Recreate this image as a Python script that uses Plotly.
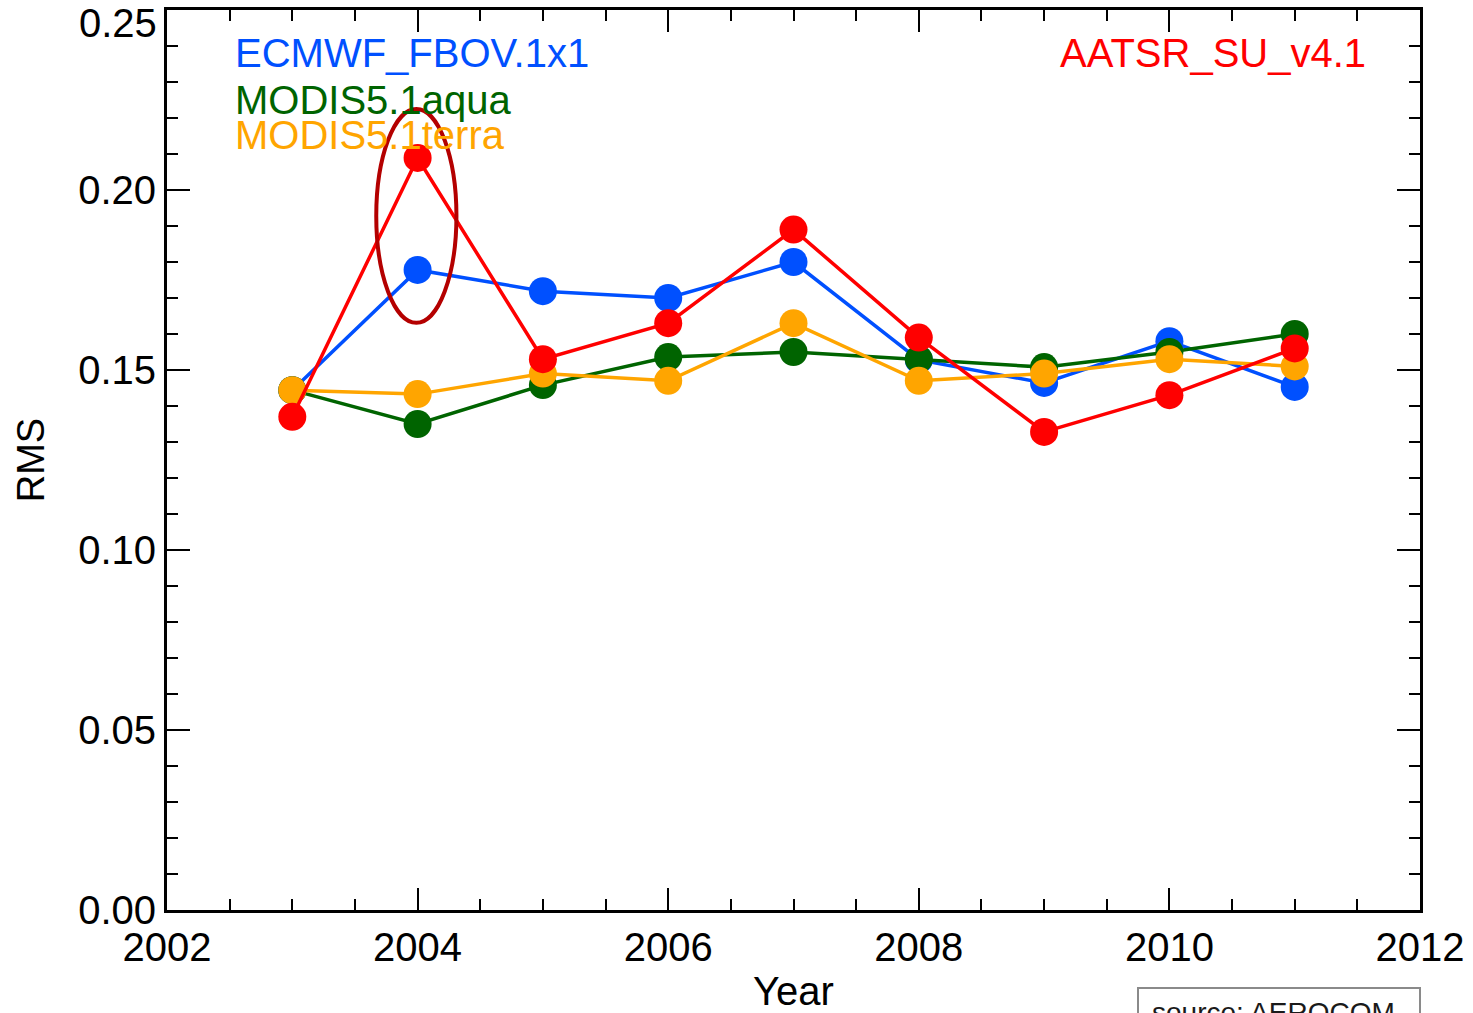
import plotly.graph_objects as go

# Annual RMS of AOD retrievals / model vs. reference
years = [2003, 2004, 2005, 2006, 2007, 2008, 2009, 2010, 2011]

ecmwf_fbov = [0.1444, 0.1778, 0.1719, 0.1700, 0.1800, 0.1528, 0.1464, 0.1580, 0.1453]
modis_aqua = [0.1444, 0.1350, 0.1458, 0.1536, 0.1550, 0.1530, 0.1508, 0.1550, 0.1600]
modis_terra = [0.1444, 0.1433, 0.1490, 0.1470, 0.1630, 0.1470, 0.1490, 0.1530, 0.1510]
aatsr_su = [0.1370, 0.2089, 0.1530, 0.1630, 0.1890, 0.1590, 0.1328, 0.1430, 0.1560]

series_names = ["ECMWF_FBOV.1x1", "MODIS5.1aqua", "MODIS5.1terra", "AATSR_SU_v4.1"]
series_values = [ecmwf_fbov, modis_aqua, modis_terra, aatsr_su]
series_colors = ["#0050ff", "#006400", "#ffa500", "#ff0000"]

x_ticks = [2002, 2004, 2006, 2008, 2010, 2012]
y_ticks = [0.00, 0.05, 0.10, 0.15, 0.20, 0.25]

FONT = "Liberation Sans, Arial, Helvetica, sans-serif"
W, H = 1473, 1013
L, R, T, B = 167, 53, 10, 103

fig = go.Figure()
for name, vals, col in zip(series_names, series_values, series_colors):
    fig.add_trace(go.Scatter(
        x=years, y=vals, name=name, mode="lines+markers",
        line=dict(color=col, width=3.5),
        marker=dict(color=col, size=28, line=dict(width=0)),
        showlegend=False,
    ))

# highlight ring around the 2004 values
fig.add_shape(type="circle", xref="x", yref="y",
              x0=2003.67, x1=2004.31, y0=0.1631, y1=0.2225,
              line=dict(color="#b40000", width=4), layer="above")


def py(pix):
    # pixel row -> paper y
    return (H - B - pix) / (H - B - T)


def px(pix):
    # pixel column -> paper x
    return (pix - L) / (W - L - R)


labels = [
    ("ECMWF_FBOV.1x1", series_colors[0], 233, 53, "left"),
    ("MODIS5.1aqua", series_colors[1], 233, 100, "left"),
    ("MODIS5.1terra", series_colors[2], 233, 135, "left"),
    ("AATSR_SU_v4.1", series_colors[3], 1368, 53, "right"),
]
for text, col, xp, yp, anchor in labels:
    fig.add_annotation(text=text, xref="paper", yref="paper",
                       x=px(xp), y=py(yp), xanchor=anchor, yanchor="middle",
                       showarrow=False, font=dict(family=FONT, size=40, color=col))

# the top tick label sits against the page edge, so it is placed by hand
top_tick = y_ticks[-1]
fig.add_annotation(text=f"{top_tick:.2f}", xref="paper", yref="paper",
                   x=px(158), y=py(0), xanchor="right", yanchor="top",
                   borderpad=0,
                   showarrow=False, font=dict(family=FONT, size=40, color="black"))

# source box at lower right
fig.add_shape(type="rect", xref="paper", yref="paper",
              x0=px(1138), x1=px(1420), y0=py(1060), y1=py(988),
              line=dict(color="#8a8a8a", width=2))
fig.add_annotation(text="source: AEROCOM", xref="paper", yref="paper",
                   x=px(1150), y=py(1013), xanchor="left", yanchor="middle",
                   showarrow=False, font=dict(family=FONT, size=28, color="#1a1a1a"))

axis_common = dict(
    showgrid=False, zeroline=False,
    showline=True, linecolor="black", linewidth=3,
    mirror="ticks", ticks="inside", tickcolor="black", tickwidth=2,
    tickfont=dict(family=FONT, size=40, color="black"),
)

fig.update_xaxes(
    range=[2002, 2012], tickvals=x_ticks, ticktext=[str(v) for v in x_ticks],
    ticklen=22,
    minor=dict(ticks="inside", dtick=0.5, tick0=2002, ticklen=11,
               tickcolor="black", tickwidth=2, showgrid=False),
    title=dict(text="Year", font=dict(family=FONT, size=40, color="black"), standoff=14),
    **axis_common,
)
fig.update_yaxes(
    range=[0, 0.25], tickvals=y_ticks,
    ticktext=[f"{v:.2f}" if v < top_tick else "" for v in y_ticks],
    ticklen=23,
    minor=dict(ticks="inside", dtick=0.01, tick0=0, ticklen=11,
               tickcolor="black", tickwidth=2, showgrid=False),
    title=dict(text="RMS", font=dict(family=FONT, size=38, color="black"), standoff=22),
    **axis_common,
)

fig.update_layout(
    width=W, height=H,
    margin=dict(l=L, r=R, t=T, b=B, autoexpand=False),
    plot_bgcolor="white", paper_bgcolor="white",
    font=dict(family=FONT, color="black"),
)

fig.write_html("out.html")
